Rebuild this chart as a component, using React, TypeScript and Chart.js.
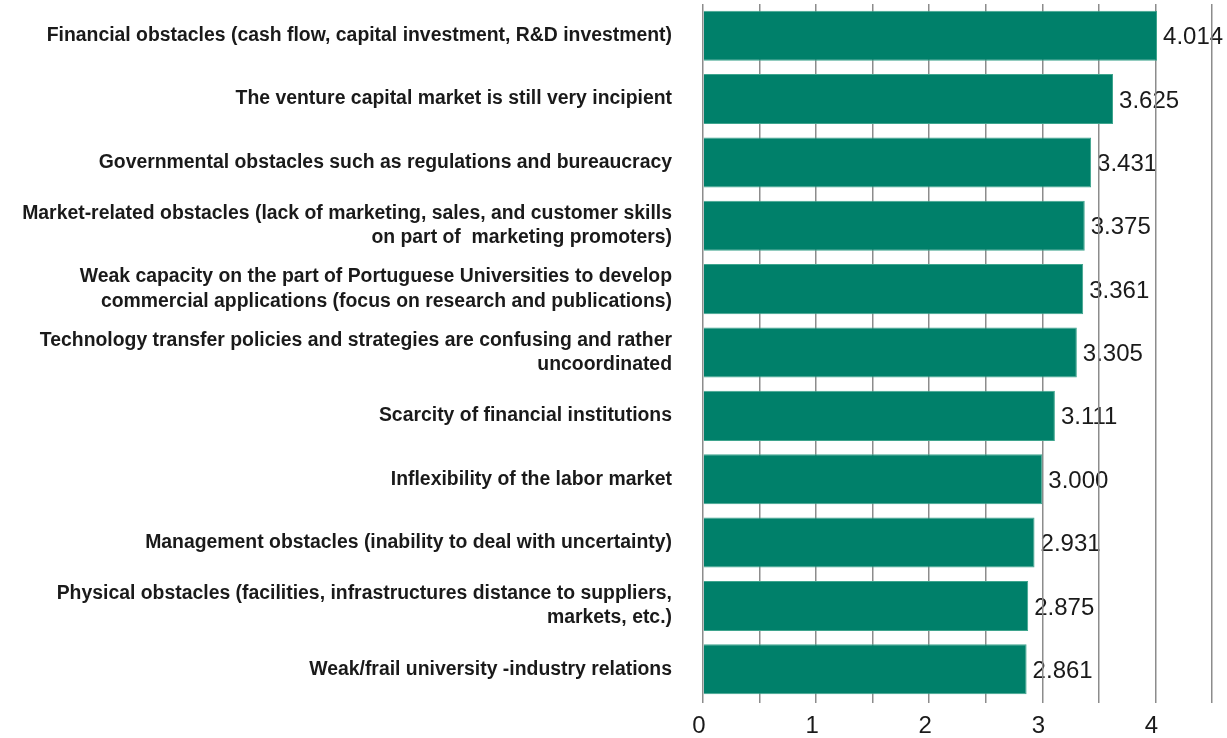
import React, { useEffect, useRef } from "react";
import { Chart, registerables } from "chart.js";

Chart.register(...registerables);

const categories: (string | string[])[] = [
  "Financial obstacles (cash flow, capital investment, R&D investment)",
  "The venture capital market is still very incipient",
  "Governmental obstacles such as regulations and bureaucracy",
  ["Market-related obstacles (lack of marketing, sales, and customer skills", "on part of  marketing promoters)"],
  ["Weak capacity on the part of Portuguese Universities to develop", "commercial applications (focus on research and publications)"],
  ["Technology transfer policies and strategies are confusing and rather", "uncoordinated"],
  "Scarcity of financial institutions",
  "Inflexibility of the labor market",
  "Management obstacles (inability to deal with uncertainty)",
  ["Physical obstacles (facilities, infrastructures distance to suppliers,", "markets, etc.)"],
  "Weak/frail university -industry relations",
];

const values: number[] = [4.014, 3.625, 3.431, 3.375, 3.361, 3.305, 3.111, 3.0, 2.931, 2.875, 2.861];

const xMin = 0;
const xMax = 4.5;
const xStep = 0.5;

const valueLabelPlugin = {
  id: "valueLabels",
  beforeDraw(chart: any) {
    const ctx = chart.ctx;
    const meta = chart.getDatasetMeta(0);
    ctx.save();
    ctx.font = "24px 'Liberation Sans', sans-serif";
    ctx.fillStyle = "#1a1a1a";
    ctx.textAlign = "left";
    ctx.textBaseline = "middle";
    meta.data.forEach((bar: any, i: number) => {
      const v = values[i];
      ctx.fillText(v.toFixed(3), bar.x + 6, bar.y + 2);
    });
    ctx.restore();
  },
};

export default function App() {
  const canvasRef = useRef<HTMLCanvasElement | null>(null);

  useEffect(() => {
    if (!canvasRef.current) return;
    const chart = new Chart(canvasRef.current, {
      type: "bar",
      data: {
        labels: categories,
        datasets: [
          {
            data: values,
            backgroundColor: "#00806a",
            borderColor: "#3fa58e",
            borderWidth: 1,
            categoryPercentage: 1,
            barPercentage: 0.79,
          },
        ],
      },
      options: {
        indexAxis: "y",
        responsive: false,
        animation: false,
        layout: { padding: { top: 4, right: 15, left: 0, bottom: 0 } },
        plugins: {
          legend: { display: false },
          tooltip: { enabled: false },
        },
        scales: {
          x: {
            type: "linear",
            min: xMin,
            max: xMax,
            border: { display: false },
            grid: {
              color: "#8c8c8c",
              lineWidth: 1.5,
              drawTicks: true,
              tickLength: 2,
            },
            ticks: {
              stepSize: xStep,
              autoSkip: false,
              maxRotation: 0,
              padding: 9,
              labelOffset: -4,
              color: "#1a1a1a",
              font: { family: "'Liberation Sans', sans-serif", size: 24 },
              callback: (v: any) => (Number.isInteger(Number(v)) ? String(v) : ""),
            },
            afterFit: (scale: any) => {
              scale.height = 37;
              scale.paddingLeft = 0;
              scale.paddingRight = 0;
            },
          },
          y: {
            border: { display: false },
            grid: { display: false, drawTicks: false },
            ticks: {
              padding: 31,
              color: "#1a1a1a",
              autoSkip: false,
              font: { family: "'Liberation Sans', sans-serif", size: 19.4, weight: "bold", lineHeight: 1.24 },
            },
            afterFit: (scale: any) => {
              scale.width = 703;
              scale.paddingTop = 0;
              scale.paddingBottom = 0;
            },
          },
        },
      },
      plugins: [valueLabelPlugin],
    });
    return () => chart.destroy();
  }, []);

  return (
    <div style={{ position: "absolute", left: 0, top: 0, width: 1227, height: 738, background: "#fff" }}>
      <canvas ref={canvasRef} width={1227} height={738} style={{ display: "block" }} />
    </div>
  );
}
